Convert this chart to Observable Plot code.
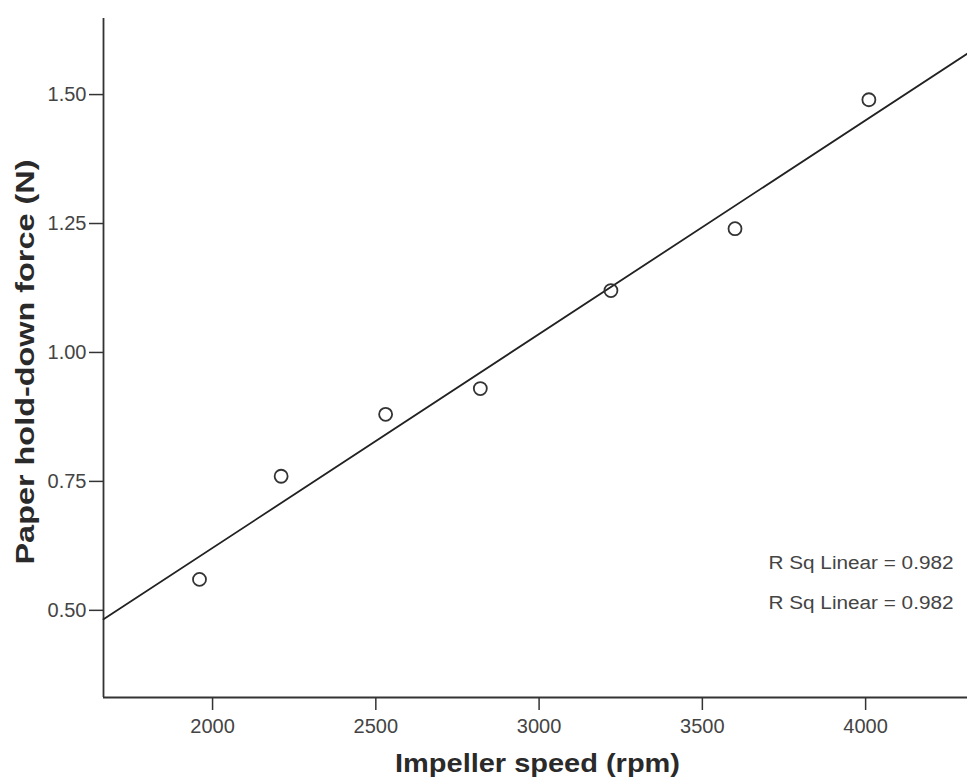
<!DOCTYPE html>
<html>
<head>
<meta charset="utf-8">
<script src="https://cdn.jsdelivr.net/npm/d3@7"></script>
<script src="https://cdn.jsdelivr.net/npm/@observablehq/plot@0.6"></script>
<style>
  html, body { margin: 0; padding: 0; background: #fff; }
  #chart svg { display: block; }
</style>
</head>
<body>
<div id="chart"></div>
<script>
const speed = [1960, 2210, 2530, 2820, 3220, 3600, 4010];
const force = [0.56, 0.76, 0.88, 0.93, 1.12, 1.24, 1.49];
const xTicks = [2000, 2500, 3000, 3500, 4000];
const yTicks = [0.50, 0.75, 1.00, 1.25, 1.50];
const xTitle = "Impeller speed (rpm)";
const yTitle = "Paper hold-down force (N)";
const annotation = "R Sq Linear = 0.982";
const xDomain = [1666, 4312];
const yDomain = [0.331, 1.6475];

const data = speed.map((s, i) => ({speed: s, force: force[i]}));
const mx = d3.mean(speed), my = d3.mean(force);
const slope = d3.sum(speed, (s, i) => (s - mx) * (force[i] - my)) / d3.sum(speed, s => (s - mx) ** 2);
const intercept = my - slope * mx;
const fit = xDomain.map(x => ({speed: x, force: intercept + slope * x}));

const font = "'Liberation Sans', Arial, sans-serif";
const chart = Plot.plot({
  width: 967,
  height: 780,
  marginLeft: 103,
  marginRight: 0,
  marginTop: 18,
  marginBottom: 83,
  style: {fontFamily: font, color: "#3a3a3a", background: "#fff"},
  x: {domain: xDomain},
  y: {domain: yDomain},
  marks: [
    Plot.axisX({ticks: xTicks, tickSize: 13, tickPadding: 8, tickFormat: d3.format("d"), label: null, fontSize: 20, stroke: "#333", strokeWidth: 1.5, fill: "#444"}),
    Plot.axisY({ticks: yTicks, tickSize: 14, tickPadding: 3, tickFormat: d3.format(".2f"), label: null, fontSize: 20, stroke: "#333", strokeWidth: 1.5, fill: "#444"}),
    Plot.ruleX([xDomain[0]], {stroke: "#333", strokeWidth: 1.8}),
    Plot.ruleY([yDomain[0]], {stroke: "#333", strokeWidth: 1.8}),
    Plot.line(fit, {x: "speed", y: "force", stroke: "#222", strokeWidth: 1.8}),
    Plot.dot(data, {x: "speed", y: "force", r: 6.5, stroke: "#333", strokeWidth: 1.8, fill: "none"}),
    Plot.text([annotation], {frameAnchor: "bottom-right", dx: -14, dy: -129, lineAnchor: "bottom", textAnchor: "end", fontSize: 18, fill: "#444"}),
    Plot.text([annotation], {frameAnchor: "bottom-right", dx: -14, dy: -89, lineAnchor: "bottom", textAnchor: "end", fontSize: 18, fill: "#444"}),
    Plot.text([xTitle], {frameAnchor: "bottom", dx: 2, dy: 74, lineAnchor: "bottom", textAnchor: "middle", fontSize: 25, fontWeight: "bold", fill: "#2a2a2a"}),
    Plot.text([yTitle], {frameAnchor: "left", dx: -70, dy: 4, rotate: -90, lineAnchor: "bottom", textAnchor: "middle", fontSize: 26, fontWeight: "bold", fill: "#2a2a2a"})
  ]
});
const fitText = (str, len) => d3.select(chart).selectAll("text")
  .filter(function () { return this.textContent === str; })
  .attr("textLength", len).attr("lengthAdjust", "spacingAndGlyphs");
fitText(xTitle, 285);
fitText(yTitle, 405);
fitText(annotation, 185);
document.getElementById("chart").appendChild(chart);
</script>
</body>
</html>
